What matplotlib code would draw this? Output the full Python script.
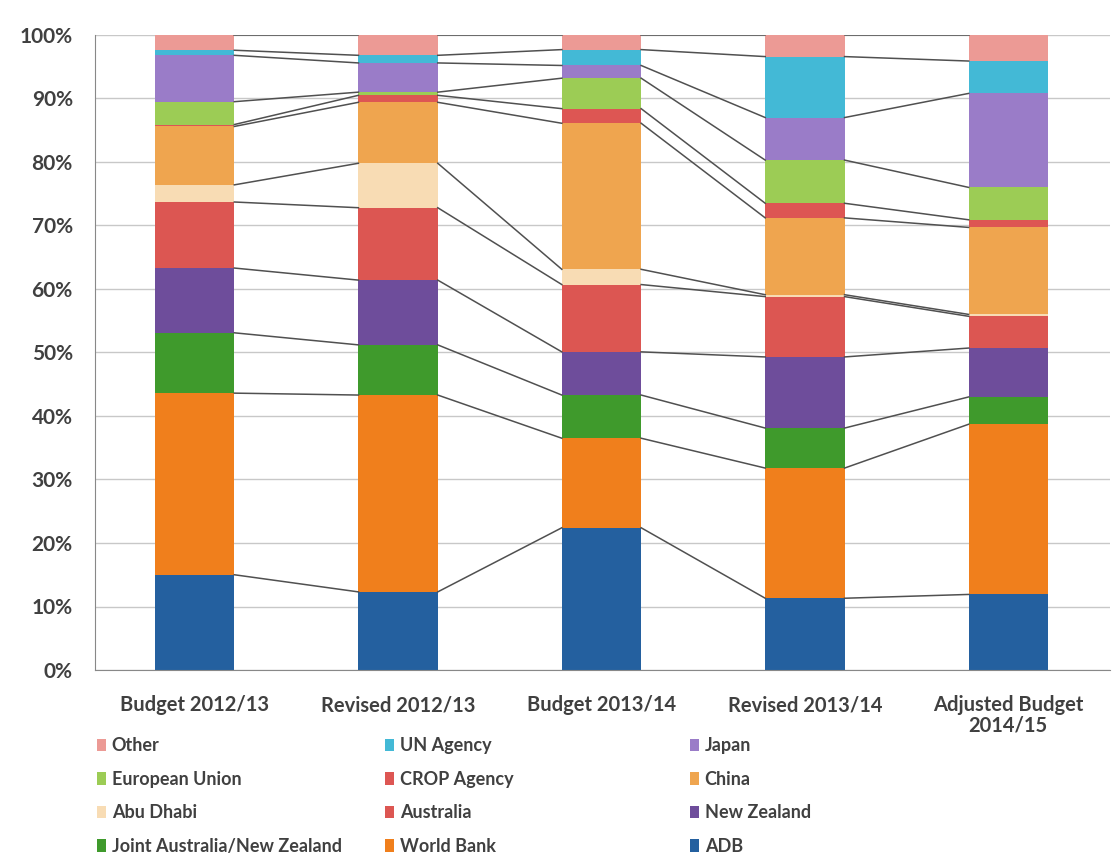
import matplotlib
matplotlib.use("Agg")
import matplotlib.pyplot as plt
import numpy as np
from matplotlib.patches import Patch

plt.rcParams['font.family'] = ['Lato', 'DejaVu Sans']

categories = ["Budget 2012/13", "Revised 2012/13", "Budget 2013/14",
              "Revised 2013/14", "Adjusted Budget\n2014/15"]

# stacked from bottom to top (percent of total)
series_names = ["ADB", "World Bank", "Joint Australia/New Zealand", "New Zealand",
                "Australia", "Abu Dhabi", "China", "CROP Agency", "European Union",
                "Japan", "UN Agency", "Other"]

adb        = [15.0, 12.3, 22.4, 11.3, 11.9]
world_bank = [28.6, 31.0, 14.1, 20.5, 26.8]
joint      = [9.5, 7.9, 6.8, 6.3, 4.3]
new_zealand= [10.2, 10.2, 6.8, 11.2, 7.7]
australia  = [10.4, 11.4, 10.6, 9.5, 5.0]
abu_dhabi  = [2.7, 7.0, 2.4, 0.3, 0.3]
china      = [9.2, 9.6, 23.0, 12.1, 13.7]
crop       = [0.3, 1.1, 2.3, 2.3, 1.2]
eu         = [3.6, 0.5, 4.8, 6.8, 5.1]
japan      = [7.3, 4.6, 2.0, 6.7, 14.8]
un_agency  = [0.8, 1.2, 2.5, 9.6, 5.1]
other      = [2.4, 3.2, 2.3, 3.4, 4.1]

data = [adb, world_bank, joint, new_zealand, australia, abu_dhabi, china,
        crop, eu, japan, un_agency, other]

colors = ["#24609f", "#f07f1c", "#3f9a2c", "#6e4d9b", "#dc5652", "#f8dcb4",
          "#efa54f", "#dd5653", "#9ccc55", "#9a7cc8", "#43b9d6", "#ec9a95"]

fig = plt.figure(figsize=(11.13, 8.66), dpi=100)
ax = fig.add_axes([95/1113, 1-670/866, (1110-95)/1113, (670-35)/866])

arr = np.array(data, dtype=float)
arr = arr / arr.sum(axis=0) * 100
x = np.arange(len(categories))
w = 0.39
bottom = np.zeros(len(categories))
tops = []
for vals, c in zip(arr, colors):
    ax.bar(x, vals, w, bottom=bottom, color=c, edgecolor='none', zorder=2)
    bottom = bottom + vals
    tops.append(bottom.copy())

# series lines
for t in tops:
    for j in range(len(categories) - 1):
        ax.plot([x[j] + w/2, x[j+1] - w/2], [t[j], t[j+1]],
                color="#505050", lw=1.1, zorder=3)

ax.set_xlim(-0.49, 4.5)
ax.set_ylim(0, 100)
ax.set_yticks(np.arange(0, 101, 10))
ax.set_yticklabels([f"{v}%" for v in range(0, 101, 10)])
ax.yaxis.grid(True, color="#c8c8c8", lw=1.0, zorder=0)
ax.set_axisbelow(True)
ax.set_xticks(x)
ax.set_xticklabels(categories, linespacing=1.05)
for lbl in ax.get_xticklabels():
    lbl.set_fontweight('bold')
    lbl.set_fontsize(14.5)
    lbl.set_color("#404040")
for lbl in ax.get_yticklabels():
    lbl.set_fontweight('bold')
    lbl.set_fontsize(15)
    lbl.set_color("#404040")
ax.tick_params(axis='x', length=0, pad=18)
ax.tick_params(axis='y', length=0, pad=16)
for s in ['top', 'right']:
    ax.spines[s].set_visible(False)
ax.spines['left'].set_color("#888888")
ax.spines['bottom'].set_color("#888888")

# legend: Excel order (reverse of stack), read row by row in 3 columns
leg_order = list(range(len(series_names)))[::-1]
ncol = 3
nrow = 4
col_x = [90, 378, 683]
for c in range(ncol):
    idx = [leg_order[r*ncol + c] for r in range(nrow)]
    handles = [Patch(facecolor=colors[i], edgecolor='none') for i in idx]
    labels = [series_names[i] for i in idx]
    leg = fig.legend(handles, labels, ncol=1, loc='upper left',
                     bbox_to_anchor=(col_x[c]/1113, 1-730/866), frameon=False,
                     handlelength=0.5, handleheight=0.7, handletextpad=0.3,
                     labelspacing=0.92, borderaxespad=0,
                     prop={'weight': 'bold', 'size': 13})
    for t in leg.get_texts():
        t.set_color("#404040")

fig.savefig("out.png", dpi=100)
